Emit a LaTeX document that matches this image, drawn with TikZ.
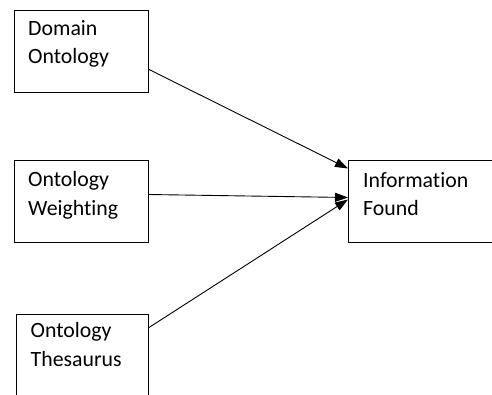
\documentclass[tikz,border=0pt]{standalone}
\usepackage{fontspec}
\setmainfont{Carlito}[Ligatures=CommonOff]
\usetikzlibrary{arrows.meta}
\begin{document}
\begin{tikzpicture}[x=1pt,y=-1pt,
  box/.style={draw, line width=1pt, inner sep=0pt, anchor=north west},
  lbl/.style={anchor=base west, inner sep=0pt, font=\fontsize{21.8}{28}\selectfont},
  conn/.style={line width=0.9pt, -{Triangle[length=13pt,width=9pt]}}]
\useasboundingbox (0,0) rectangle (492,394);
\clip (0,0) rectangle (492,394);
\node[box, minimum width=134pt, minimum height=82pt] (b1) at (14,10) {};
\node[box, minimum width=134pt, minimum height=82pt] (b2) at (14,160) {};
\node[box, minimum width=132pt, minimum height=90pt] (b3) at (16,314) {};
\node[box, minimum width=160pt, minimum height=82pt] (b4) at (348,160) {};
\node[lbl] (t1a) at (28,35) {Domain};
\node[lbl] (t1b) at (28,63.3) {Ontology};
\node[lbl] (t2a) at (28,186.5) {Ontology};
\node[lbl] (t2b) at (28,215) {Weighting};
\node[lbl] (t3a) at (30.5,337.5) {Ontology};
\node[lbl] (t3b) at (30.5,366) {Thesaurus};
\node[lbl] (t4a) at (363,187.7) {Information};
\node[lbl] (t4b) at (363,215.7) {Found};
\draw[conn] ([yshift=-18pt]b1.east) -- ([yshift=33pt]b4.west);
\draw[conn] ([yshift=7pt]b2.east) -- ([yshift=4pt]b4.west);
\draw[conn] ([yshift=32pt]b3.east) -- ([yshift=2pt]b4.west);
\end{tikzpicture}
\end{document}
